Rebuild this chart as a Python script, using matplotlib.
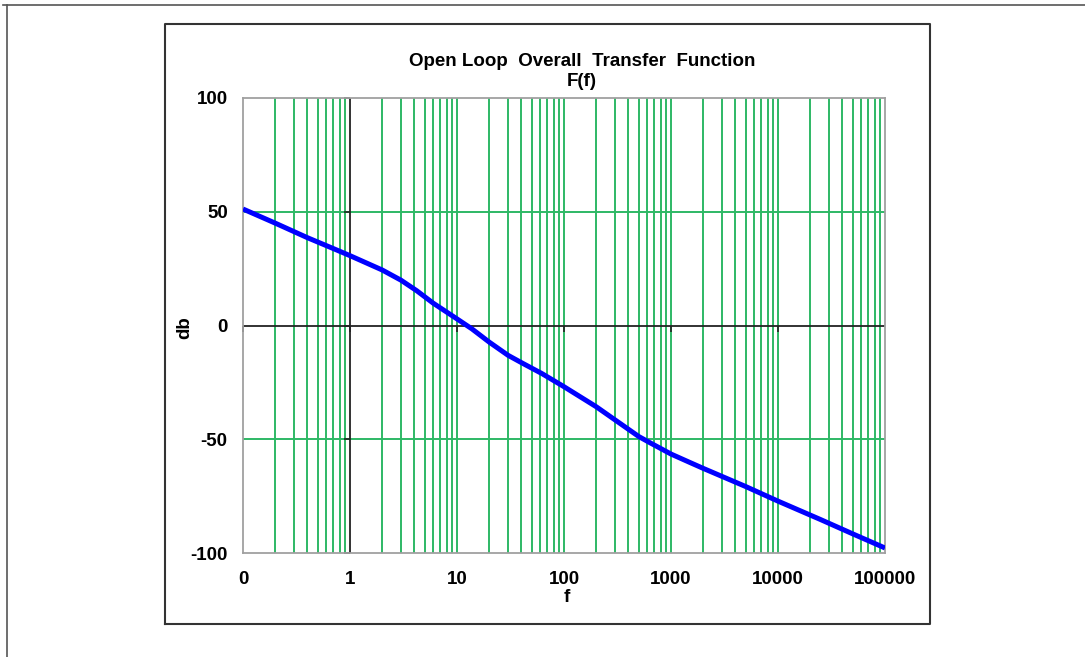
import matplotlib
matplotlib.use("Agg")
import matplotlib.pyplot as plt
from matplotlib.lines import Line2D
from matplotlib.markers import TICKLEFT, TICKDOWN

# ---- data ----
freq = [0.1, 0.2, 0.4, 0.7, 1, 2, 3, 4.2, 6, 10, 13.8, 20, 30, 41, 62, 100, 200, 300, 500,
        640, 1000, 1500, 2000, 5000, 10000, 25000, 50000, 100000]
gain_db = [51.2, 45.0, 38.6, 33.8, 30.7, 24.4, 19.9, 15.3, 9.8, 2.9, -1.5, -7.3, -13.1, -16.6,
           -21.1, -26.9, -35.7, -41.5, -48.8, -51.6, -56.5, -60.2, -62.8, -70.8, -77.2, -85.3,
           -91.6, -97.8]
x_ticks = [0.1, 1, 10, 100, 1000, 10000, 100000]
x_tick_labels = ["0", "1", "10", "100", "1000", "10000", "100000"]
y_ticks = [-100, -50, 0, 50, 100]
y_tick_labels = ["-100", "-50", "0", "50", "100"]
title_line1 = "Open Loop  Overall  Transfer  Function"
title_line2 = "F(f)"

plt.rcParams['font.family'] = ['Liberation Sans', 'DejaVu Sans']
plt.rcParams['font.weight'] = 'bold'

W, H = 1085, 657
FS = 13.5
fig = plt.figure(figsize=(W / 100, H / 100), dpi=100)
fig.patch.set_facecolor('white')

# outer page frame lines and inner box
fig.add_artist(Line2D([3 / W, 1.0], [1 - 5 / H, 1 - 5 / H], color='#555555', lw=1.2))
fig.add_artist(Line2D([7 / W, 7 / W], [0, 1 - 5 / H], color='#555555', lw=1.2))
bx0, bx1, by0, by1 = 165 / W, 930 / W, 1 - 624 / H, 1 - 24 / H
fig.add_artist(Line2D([bx0, bx1, bx1, bx0, bx0], [by0, by0, by1, by1, by0], color='#333333', lw=1.5))

ax = fig.add_axes([243 / W, 1 - 553 / H, (885 - 243) / W, (553 - 98) / H])
ax.set_xscale('log')
ax.set_xlim(0.1, 100000)
ax.set_ylim(-100, 100)

green = '#2eb865'
# vertical grid lines (all decade sub-divisions)
for d in range(-1, 5):
    for m in range(1, 10):
        v = m * 10.0 ** d
        if v <= 0.1 or v >= 100000 or v == 1:
            continue
        ax.axvline(v, color=green, lw=1.4, zorder=1)
for yv in [50, -50]:
    ax.axhline(yv, color=green, lw=1.4, zorder=1)

# axis lines through 1 and 0
ax.axvline(1, color='#222222', lw=1.3, zorder=2)
ax.axhline(0, color='#222222', lw=1.3, zorder=2)
ax.plot([1] * len(y_ticks), y_ticks, linestyle='none', marker=TICKLEFT, markersize=4,
        markeredgewidth=1.2, color='#222222', zorder=2, clip_on=False)
ax.plot(x_ticks[:-1], [0] * (len(x_ticks) - 1), linestyle='none', marker=TICKDOWN, markersize=4,
        markeredgewidth=1.2, color='#222222', zorder=2, clip_on=False)

ax.plot(freq, gain_db, color='#0000ff', lw=3.6, zorder=3, solid_capstyle='butt',
        solid_joinstyle='round')

for s in ax.spines.values():
    s.set_color('#a0a0a0')
    s.set_linewidth(1.3)

ax.set_xticks(x_ticks)
ax.set_xticklabels(x_tick_labels)
ax.set_yticks(y_ticks)
ax.set_yticklabels(y_tick_labels)
ax.minorticks_off()
ax.tick_params(axis='both', length=0, labelsize=FS)
ax.tick_params(axis='x', pad=13)
ax.tick_params(axis='y', pad=11)
for lab in ax.get_xticklabels() + ax.get_yticklabels():
    lab.set_fontweight('bold')

fig.text(582 / W, 1 - 62 / H, title_line1, ha='center', va='center', fontsize=FS, fontweight='bold')
fig.text(582 / W, 1 - 81 / H, title_line2, ha='center', va='center', fontsize=FS, fontweight='bold')
fig.text(567 / W, 1 - 598 / H, "f", ha='center', va='center', fontsize=FS, fontweight='bold')
fig.text(185 / W, 1 - 328 / H, "db", ha='center', va='center', fontsize=FS,
         fontweight='bold', rotation=90)

fig.savefig('out.png', dpi=100, facecolor='white')
